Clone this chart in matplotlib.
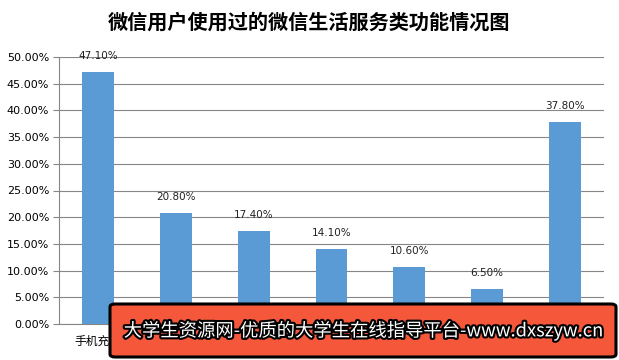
import matplotlib
matplotlib.use("Agg")
import matplotlib.pyplot as plt
from matplotlib.patches import FancyBboxPatch
import matplotlib.patheffects as pe

plt.rcParams['font.family'] = ['Noto Sans CJK SC', 'DejaVu Sans']

categories = ["手机充值", "彩票", "电影票", "打车", "生活缴费", "城市服务", "其他"]
values = [47.10, 20.80, 17.40, 14.10, 10.60, 6.50, 37.80]
yticks = [0, 5, 10, 15, 20, 25, 30, 35, 40, 45, 50]
title = "微信用户使用过的微信生活服务类功能情况图"
watermark = "大学生资源网-优质的大学生在线指导平台-www.dxszyw.cn"

W, H = 619, 360
fig = plt.figure(figsize=(W/100, H/100), dpi=100)
ax = fig.add_axes([59/W, (H-324)/H, (604-59)/W, (324-57)/H])

x = list(range(len(categories)))
ax.bar(x, values, width=0.41, color='#5B9BD5', zorder=3)
for xi, v in zip(x, values):
    ax.text(xi, v + 3.0, f"{v:.2f}%", ha='center', va='center', fontsize=7.5,
            family='DejaVu Sans', color='#222222', zorder=4)

ax.set_xlim(-0.5, len(categories) - 0.5)
ax.set_ylim(0, 50)
ax.set_yticks(yticks)
ax.set_yticklabels([f"{t:.2f}%" for t in yticks], fontsize=8, family='DejaVu Sans')
ax.set_xticks(x)
ax.set_xticklabels(categories, fontsize=8.5)
ax.tick_params(axis='x', length=0, pad=8)
ax.tick_params(axis='y', length=4, color='#868686', pad=3)
ax.yaxis.grid(True, color='#868686', linewidth=0.8, zorder=0)
for s in ['top', 'right']:
    ax.spines[s].set_visible(False)
for s in ['left', 'bottom']:
    ax.spines[s].set_color('#868686')
    ax.spines[s].set_linewidth(0.8)

fig.text(0.5, (H-22)/H, title, ha='center', va='center', fontsize=14.5,
         fontweight='bold', color='black')

bx0, by0, bx1, by1 = 110, 304, 616, 357
banner = FancyBboxPatch((bx0/W, (H-by1)/H), (bx1-bx0)/W, (by1-by0)/H,
                        boxstyle="round,pad=0,rounding_size=0.008",
                        transform=fig.transFigure, facecolor='#F5573B',
                        edgecolor='black', linewidth=2.2, zorder=10)
fig.add_artist(banner)
t = fig.text((bx0+bx1)/2/W + 1/W, (H-(by0+by1)/2)/H, watermark, ha='center', va='center',
             fontsize=13.2, color='white', zorder=11)
t.set_path_effects([pe.withStroke(linewidth=3, foreground='black')])

fig.savefig("out.png", dpi=100)
